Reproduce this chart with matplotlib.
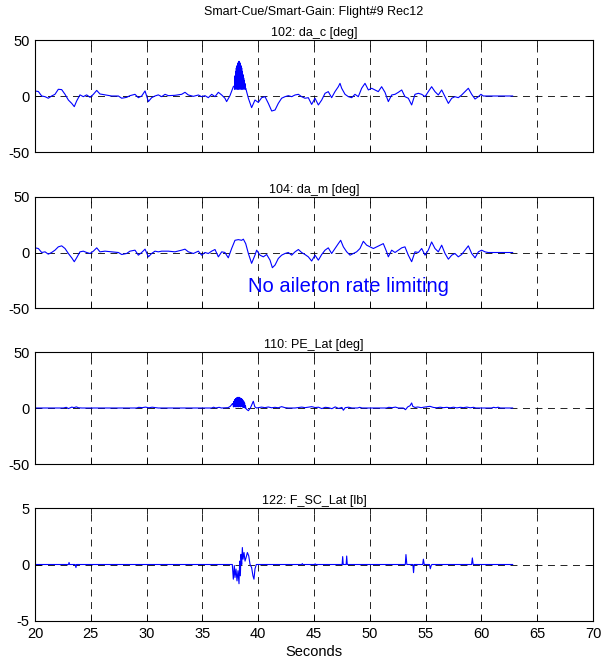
import numpy as np
import matplotlib
matplotlib.use("Agg")
import matplotlib.pyplot as plt

plt.rcParams['font.family'] = ['Liberation Sans', 'DejaVu Sans']
plt.rcParams['lines.scale_dashes'] = False
plt.rcParams['axes.unicode_minus'] = False

suptitle = "Smart-Cue/Smart-Gain: Flight#9 Rec12"
panel_titles = ["102: da_c [deg]", "104: da_m [deg]", "110: PE_Lat [deg]", "122: F_SC_Lat [lb]"]
x_ticks = [20, 25, 30, 35, 40, 45, 50, 55, 60, 65, 70]
y_ticks_deg = [-50, 0, 50]
y_ticks_lb = [-5, 0, 5]
annotation = "No aileron rate limiting"
xlabel = "Seconds"

# 102: da_c [deg]
da_c_t = [20.00, 20.30, 20.60, 20.90, 21.19, 21.49, 21.79, 22.09, 22.39, 22.69, 22.99, 23.29, 23.52, 23.73,
          24.03, 24.33, 24.63, 24.93, 25.23, 25.53, 25.82, 26.27, 26.87, 27.47, 27.77, 28.21, 28.51, 28.96,
          29.26, 29.56, 29.86, 30.16, 30.45, 30.75, 31.05, 31.35, 31.65, 31.95, 32.54, 33.14, 33.44, 33.74,
          34.19, 34.64, 34.93, 35.23, 35.53, 35.83, 36.13, 36.43, 36.73, 37.02, 37.17, 37.47, 37.77,
          37.86, 37.89, 37.92, 37.95, 37.98, 38.01, 38.04, 38.07, 38.10, 38.13, 38.16, 38.19, 38.22, 38.25,
          38.28, 38.31, 38.34, 38.37, 38.40, 38.43, 38.46, 38.49, 38.52, 38.55, 38.58, 38.61, 38.64, 38.67,
          38.70, 38.73, 38.76, 38.79, 38.82, 38.85, 38.88,
          39.12, 39.41, 39.71, 40.01, 40.31, 40.61, 40.91, 41.21, 41.51, 41.80, 42.10, 42.40, 42.70, 43.00,
          43.30, 43.60, 43.89, 44.19, 44.49, 44.79, 45.09, 45.39, 45.69, 45.99, 46.28, 46.58, 46.88, 47.18,
          47.33, 47.48, 47.78, 48.08, 48.38, 48.67, 48.97, 49.27, 49.57, 49.87, 50.17, 50.47, 50.76, 51.06,
          51.36, 51.66, 51.96, 52.26, 52.56, 52.86, 53.15, 53.45, 53.75, 54.05, 54.35, 54.65, 54.95, 55.24,
          55.54, 55.84, 56.14, 56.44, 56.74, 57.04, 57.34, 57.63, 57.93, 58.23, 58.53, 58.83, 59.13, 59.43,
          59.73, 59.96, 60.17, 62.80]
da_c_v = [4.5, 4.0, 0.0, -0.6, -2.0, 0.0, 1.5, 6.0, 5.7, 1.5, -3.6, -6.6, -9.5, -4.5,
          1.0, -0.6, 1.0, -1.2, 1.5, 5.0, 1.8, 1.0, 0.0, 0.0, -2.0, -1.2, 0.3, 1.5,
          -1.5, 0.0, 4.5, -5.0, -1.5, 0.0, 1.0, -0.6, 1.5, 0.3, 0.6, 1.5, 3.3, 0.9,
          -0.3, 0.9, -0.6, 0.3, -1.5, 1.5, -0.6, 3.3, 0.9, -2.0, -5.0, 0.3, 8.3,
          9, 6, 18, 7, 22, 6, 25, 7, 27, 6, 29, 7, 30, 6,
          31, 7, 30, 6, 29, 7, 27, 6, 25, 7, 22, 6, 19, 7,
          16, 6, 14, 7, 11, 6, 7,
          -2.0, -10.4, -3.6, -5.7, -1.5, -0.6, -6.6, -13.4, -12.5, -6.6, -2.0, -0.6, 0.3, -0.6,
          0.9, 1.5, -0.6, -2.0, -1.5, -7.5, -2.0, -8.0, -3.6, 2.4, 3.9, -1.5, 3.9, 8.3,
          11.3, 6.9, 1.5, -0.6, -1.5, 1.5, -0.6, 6.9, 11.3, 5.4, 6.9, 5.4, 3.9, 8.3,
          3.3, -5.0, 0.9, 1.5, 3.3, 5.4, -0.6, -2.0, -8.0, 1.5, 2.4, 1.5, -0.6, 3.9,
          8.3, 3.9, 0.9, 5.4, -0.6, -6.6, -2.0, -0.6, -1.5, 0.9, 3.9, 6.9, 1.5, -2.7,
          -0.6, 1.5, 0.0, 0.0]

# 104: da_m [deg]
da_m_t = [20.00, 20.30, 20.60, 20.90, 21.19, 21.49, 21.79, 22.09, 22.39, 22.69, 22.99, 23.29, 23.52, 23.73,
          24.03, 24.33, 24.63, 24.93, 25.23, 25.53, 25.82, 26.27, 26.87, 27.47, 27.77, 28.21, 28.51, 28.96,
          29.26, 29.56, 29.86, 30.16, 30.45, 30.75, 31.05, 31.35, 31.95, 32.54, 33.14, 33.44, 33.74, 34.19,
          34.64, 34.93, 35.23, 35.53, 35.83, 36.13, 36.43, 36.73, 37.02, 37.32, 37.62, 37.92, 38.22, 38.52,
          38.67, 38.88, 39.12, 39.41, 39.71, 39.86, 40.16, 40.46, 40.76, 41.06, 41.27, 41.51, 41.80, 42.10,
          42.40, 42.70, 43.00, 43.30, 43.60, 43.89, 44.19, 44.49, 44.79, 45.09, 45.39, 45.69, 45.99, 46.28,
          46.58, 46.88, 47.18, 47.39, 47.63, 47.93, 48.23, 48.52, 48.82, 49.12, 49.42, 49.72, 50.02, 50.32,
          50.62, 50.91, 51.21, 51.51, 51.66, 51.96, 52.26, 52.56, 52.86, 53.15, 53.45, 53.75, 54.05, 54.35,
          54.65, 54.95, 55.24, 55.54, 55.84, 56.14, 56.44, 56.74, 57.04, 57.34, 57.63, 57.93, 58.23, 58.53,
          58.83, 59.13, 59.43, 59.73, 60.02, 60.32, 60.60, 62.80]
da_m_v = [4.2, 3.6, 0.0, 0.6, -1.5, 0.0, 2.1, 5.1, 6.0, 3.6, -0.9, -4.8, -8.3, -4.8,
          0.6, 1.2, 0.0, -0.9, 1.2, 4.2, 0.6, 1.2, 0.6, 0.0, -1.8, -0.9, 1.2, 2.1,
          -2.4, 0.0, 3.0, -3.9, -0.9, 1.2, 0.6, 1.2, 1.2, 0.6, 2.1, 3.0, 0.6, -0.9,
          1.2, -2.4, 0.0, -0.9, 1.2, 2.7, -3.9, 0.6, 0.0, -4.8, 3.6, 11.0, 11.6, 11.0,
          12.0, 8.0, -0.9, -9.8, -2.4, 2.1, -2.4, -3.9, -1.8, -6.9, -13.7, -11.3, -5.4, -2.4,
          -0.9, 0.0, -2.4, 0.6, 2.7, 0.0, -1.8, -3.9, -7.7, -2.4, -6.9, -1.8, 2.1, 4.2,
          -0.9, 3.6, 8.0, 11.0, 5.1, 0.6, -2.4, -0.9, 0.6, 3.6, 10.1, 6.6, 5.1, 3.6,
          5.1, 6.6, 8.0, 0.6, -3.9, 2.1, 0.0, 2.1, 4.2, 5.1, -2.4, -8.3, 0.6, 0.0,
          3.6, -2.4, 2.1, 9.5, 3.6, 0.6, 6.6, -0.9, -6.0, -2.4, -0.9, -3.9, -1.8, 2.1,
          6.0, -0.9, -4.8, 0.6, 2.1, 0.6, 0.0, 0.0]

# 110: PE_Lat [deg]
pe_t = [20.00, 22.55, 22.80, 23.00, 23.30, 23.50, 23.70, 23.90, 24.20, 29.10, 29.30, 29.60, 29.90, 30.20,
        30.50, 30.80, 31.05, 35.83, 36.00, 36.20, 36.50, 36.70, 37.30, 37.50, 37.70,
        37.74, 37.78, 37.82, 37.86, 37.90, 37.94, 37.98, 38.02, 38.06, 38.10, 38.14, 38.18, 38.22, 38.26,
        38.30, 38.34, 38.38, 38.42, 38.46, 38.50, 38.54, 38.58, 38.62, 38.66, 38.70, 38.74, 38.78, 38.82,
        38.86, 38.90, 39.00, 39.12, 39.30, 39.56, 39.70, 39.86, 40.30, 40.60, 40.90, 41.20, 41.50, 41.80,
        42.10, 42.40, 42.70, 43.30, 43.60, 43.90, 44.20, 44.50, 44.80, 45.10, 45.40, 45.70, 46.00, 46.30,
        46.60, 46.90, 47.20, 47.50, 47.63, 47.80, 48.10, 48.40, 48.90, 49.10, 49.30, 51.50, 51.70, 52.00,
        52.30, 52.55, 53.00, 53.20, 53.40, 53.60, 53.75, 53.85, 54.05, 54.30, 54.60, 54.90, 55.39, 55.70,
        56.00, 56.30, 56.60, 56.90, 57.20, 57.50, 57.80, 58.10, 58.40, 58.70, 59.00, 59.30, 59.50, 60.90,
        61.10, 61.30, 61.50, 61.70, 62.80]
pe_v = [0.0, 0.0, 0.6, -0.5, 0.8, 0.3, 1.0, 0.2, 0.0, 0.0, 0.6, 0.3, 0.8, 0.2,
        0.7, 0.3, 0.0, 0.0, 0.7, 0.0, 0.6, 0.0, 0.3, 1.5, 4.0,
        4.0, 1.0, 6.0, 1.5, 7.5, 1.0, 8.5, 1.5, 9.0, 1.0, 9.5, 1.5, 9.5, 1.0,
        9.5, 1.5, 9.0, 1.0, 8.5, 1.5, 8.0, 1.0, 7.0, 0.5, 6.0, 0.5, 4.5, 0.0,
        2.0, -0.5, -1.5, -2.4, 0.0, 6.0, 1.0, 0.0, 0.8, 0.3, 0.9, 0.2, 0.6, 0.2,
        1.2, 0.3, 0.0, 0.0, 0.4, 0.8, 0.3, 0.8, 1.2, 0.4, 0.7, -0.5, 0.6, 0.3,
        -0.6, 1.0, -0.4, 0.5, -2.0, 0.3, 0.7, 0.0, 0.0, 0.6, 0.0, 0.0, 0.6, 0.3,
        0.8, 0.0, 0.0, -1.5, 1.0, 2.0, 4.5, 1.5, 0.5, 0.9, 0.3, 0.8, 1.5, 0.5,
        0.2, 0.7, 0.3, 0.6, 0.2, 0.7, 0.1, 0.6, 0.3, 0.8, 0.2, 0.6, 0.0, 0.0,
        0.6, 0.2, 0.7, 0.0, 0.0]

# 122: F_SC_Lat [lb]
f_t = [20.00, 23.00, 23.05, 23.10, 23.60, 23.67, 23.72, 37.68, 37.77, 37.86, 37.92, 38.01, 38.10, 38.19,
       38.28, 38.34, 38.40, 38.46, 38.52, 38.58, 38.64, 38.73, 38.82, 38.91, 39.03, 39.15, 39.27, 39.41,
       39.53, 39.62, 39.71, 39.83, 43.90, 43.95, 44.00, 45.05, 45.10, 45.15, 47.52, 47.57, 47.62, 47.88,
       47.93, 47.98, 53.18, 53.24, 53.32, 53.86, 53.92, 53.98, 54.74, 54.80, 54.88, 55.35, 55.42, 55.50,
       55.56, 59.12, 59.19, 59.26, 62.80]
f_v = [0.0, 0.0, 0.18, 0.0, 0.0, -0.27, 0.0, 0.0, -1.3, -0.1, -1.15, -0.4, -1.45, -0.55,
       -1.7, 0.3, -1.0, 0.9, 0.0, 1.5, 0.47, 1.06, 0.3, 0.6, 1.06, 0.77, 0.0, -0.27,
       -1.0, -1.3, -0.4, 0.0, 0.0, 0.08, 0.0, 0.0, 0.06, 0.0, 0.0, 0.7, 0.0, 0.0,
       0.75, 0.0, 0.0, 0.88, 0.0, 0.0, -0.72, 0.0, 0.0, 0.47, 0.0, 0.0, -0.38, -0.1,
       0.0, 0.0, 0.58, 0.0, 0.0]

series = [(da_c_t, da_c_v, y_ticks_deg), (da_m_t, da_m_v, y_ticks_deg),
          (pe_t, pe_v, y_ticks_deg), (f_t, f_v, y_ticks_lb)]

W, H = 610, 665
fig = plt.figure(figsize=(W / 100, H / 100), dpi=100)
left = 35 / W
width = (593 - 35) / W
tops = [40, 197, 352, 508]
bots = [152, 308, 464, 621]

blue = '#0000ff'
for i, ((t, v, yt), title) in enumerate(zip(series, panel_titles)):
    ax = fig.add_axes([left, 1 - bots[i] / H, width, (bots[i] - tops[i]) / H])
    ax.plot(t, v, color=blue, lw=0.8)
    ax.set_xlim(20, 70)
    ax.set_ylim(yt[0], yt[-1])
    ax.set_xticks(x_ticks)
    ax.set_yticks(yt)
    ax.grid(True, color='black', lw=0.6, linestyle=(0, (5, 4)))
    ax.tick_params(direction='in', length=4, width=0.6, top=True, right=True,
                   labelsize=10.5, pad=4)
    if i < 3:
        ax.set_xticklabels([])
    else:
        ax.set_xlabel(xlabel, fontsize=10.5, labelpad=3)
    for s in ax.spines.values():
        s.set_linewidth(0.8)
    ax.set_title(title, fontsize=9, pad=3)
    if i == 1:
        ax.text(39.1, -31, annotation, color=blue, fontsize=14.5, va='center', ha='left')

fig.text(0.5 * (35 + 593) / W, 1 - 12 / H, suptitle, ha='center', va='center', fontsize=9)

fig.savefig('out.png', dpi=100)
